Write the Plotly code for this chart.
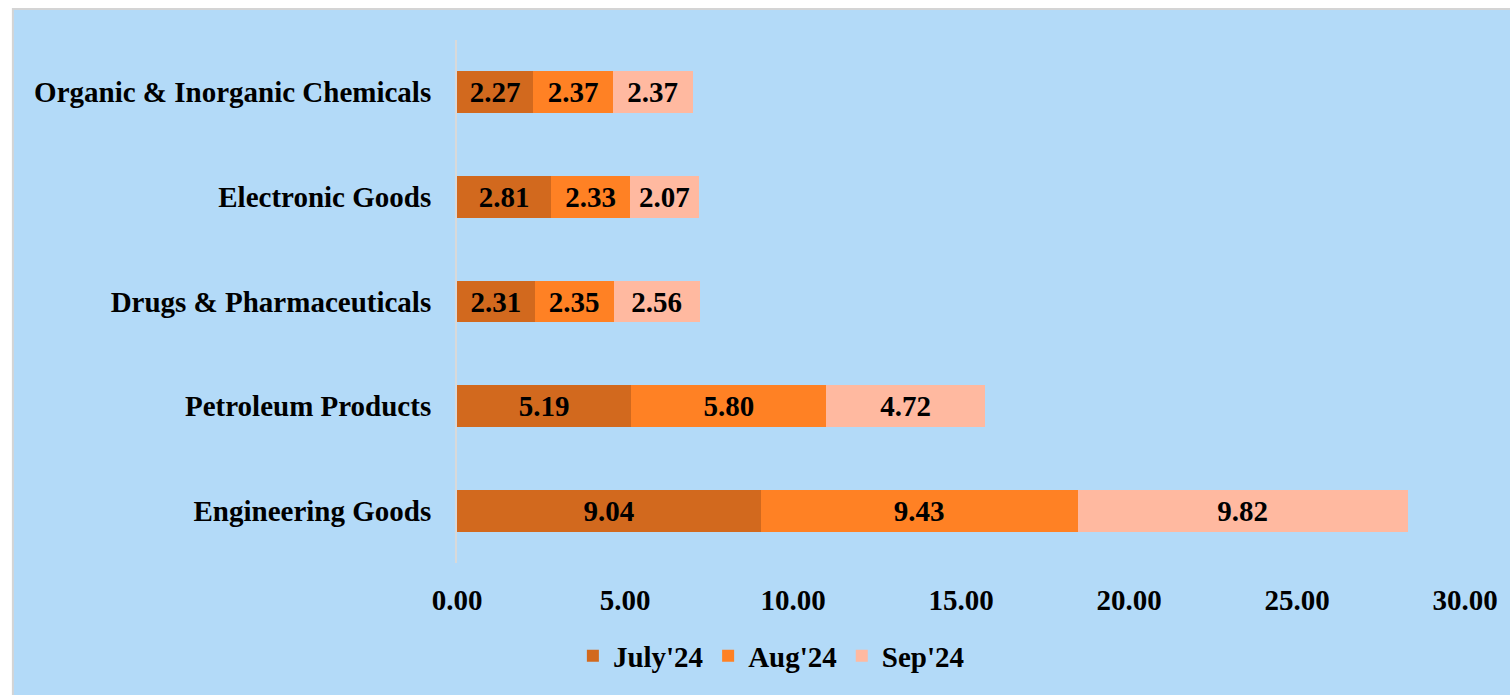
import plotly.graph_objects as go

# Export categories, top to bottom
categories = [
    "Organic & Inorganic Chemicals",
    "Electronic Goods",
    "Drugs & Pharmaceuticals",
    "Petroleum Products",
    "Engineering Goods",
]

# Monthly values per category
july_24 = [2.27, 2.81, 2.31, 5.19, 9.04]
aug_24 = [2.37, 2.33, 2.35, 5.80, 9.43]
sep_24 = [2.37, 2.07, 2.56, 4.72, 9.82]

series_names = ["July'24", "Aug'24", "Sep'24"]
series_colors = ["#D2691E", "#FF8124", "#FFB9A0"]

x_ticks = [0, 5, 10, 15, 20, 25, 30]

FONT = "Liberation Serif, Times New Roman, serif"
BG = "#B3DAF8"
FS = 29

W, H = 1510, 695
L, R, T, B = 457, 43, 40, 132
plot_w = W - L - R
plot_h = H - T - B


def px_x(px):
    return (px - L) / plot_w


def px_y(py):
    return (H - B - py) / plot_h


fig = go.Figure()
for name, vals, color in zip(series_names, [july_24, aug_24, sep_24], series_colors):
    fig.add_trace(go.Bar(
        y=categories,
        x=vals,
        name=name,
        orientation="h",
        marker=dict(color=color, line=dict(width=0)),
        text=vals,
        texttemplate="%{x:.2f}",
        textposition="inside",
        insidetextanchor="middle",
        textangle=0,
        textfont=dict(family=FONT, size=FS, color="black", weight="bold"),
        hoverinfo="x+y+name",
    ))

# Light blue panel with a thin grey frame on the top and left
fig.add_shape(
    type="rect", xref="paper", yref="paper",
    x0=px_x(12), x1=px_x(1530), y0=px_y(715), y1=px_y(9),
    fillcolor=BG, line=dict(color="#D4D4D4", width=2), layer="below",
)

fig.update_layout(
    width=W, height=H,
    barmode="stack",
    bargap=0.6,
    paper_bgcolor="white",
    plot_bgcolor="rgba(0,0,0,0)",
    margin=dict(l=L, r=R, t=T, b=B, pad=0),
    font=dict(family=FONT, size=FS, color="black", weight="bold"),
    uniformtext=dict(minsize=FS, mode="show"),
    showlegend=True,
    legend=dict(
        orientation="h",
        x=px_x(772), xanchor="center",
        y=px_y(656), yanchor="middle",
        font=dict(family=FONT, size=FS, color="black", weight="bold"),
        bgcolor="rgba(0,0,0,0)",
        traceorder="normal",
        itemwidth=30,
    ),
    xaxis=dict(
        range=[0, 30],
        tickvals=x_ticks,
        tickformat=".2f",
        showgrid=False,
        zeroline=False,
        showline=False,
        ticks="",
        ticklabelstandoff=17,
        tickfont=dict(family=FONT, size=FS, color="black", weight="bold"),
        fixedrange=True,
    ),
    yaxis=dict(
        autorange="reversed",
        showgrid=False,
        zeroline=False,
        showline=True,
        linecolor="#D9D9D9",
        linewidth=2,
        ticks="",
        ticklabelstandoff=18,
        tickfont=dict(family=FONT, size=FS, color="black", weight="bold"),
        fixedrange=True,
    ),
)

fig.write_html("out.html")
